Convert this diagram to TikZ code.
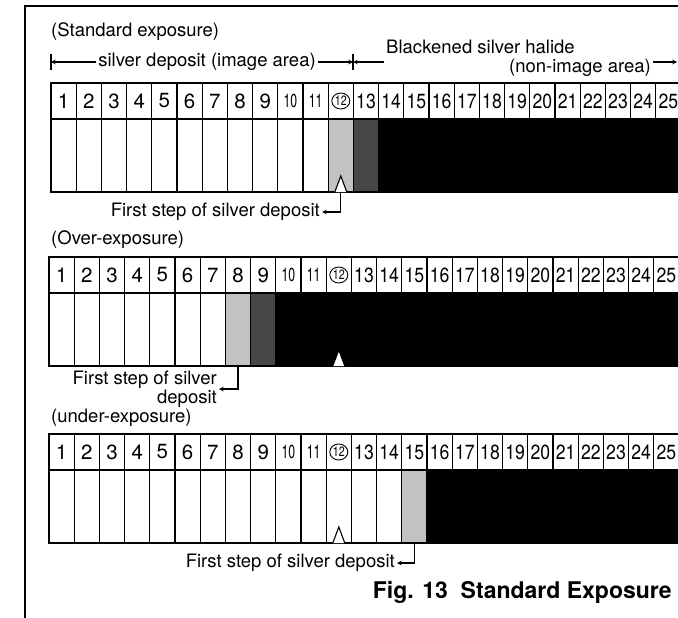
\documentclass[tikz,border=0pt]{standalone}
\usepackage{fontspec}
\setmainfont{TeX Gyre Heros}
\usepackage{graphicx}
\usetikzlibrary{positioning,calc}
\definecolor{lightdot}{gray}{0.76}
\definecolor{darkdot}{gray}{0.28}

% step numbers: 10 and 11 squeezed, 12 small (circled later), rest narrowed
\newcommand{\stepnum}[1]{\ifnum#1<10 #1\else\ifnum#1<12 \scalebox{0.6}[0.92]{#1}\else\ifnum#1=12 \scalebox{0.52}[0.66]{#1}\else\scalebox{0.86}[1]{#1}\fi\fi\fi}

% one grey scale strip: prefix, left x, top y, first grey step, first black step
\newcommand{\exposurestrip}[5]{%
  \foreach \i in {1,...,25}{%
    \ifnum\i<#4 \def\cellfill{white}\else
    \ifnum\i=#4 \def\cellfill{lightdot}\else
    \ifnum\i<#5 \def\cellfill{darkdot}\else \def\cellfill{black}\fi\fi\fi
    \node[numcell] (#1n\i) at ({#2+(\i-0.5)*25.2}, {#3+18}) {\stepnum{\i}};
    \node[bodycell, fill=\cellfill, below=0pt of #1n\i] (#1b\i) {};
  }
  \draw[line width=0.9pt] (#1n12.center) ellipse (9pt and 8pt);
}

\begin{document}
\begin{tikzpicture}[x=1pt, y=-1pt, >=stealth]
\tikzstyle{numcell} = [rectangle, draw, line width=1.2pt, outer sep=0pt, inner sep=0pt, minimum width=25.2pt, minimum height=36pt, font=\fontsize{20.5}{20}\selectfont]
\tikzstyle{bodycell} = [rectangle, draw, line width=1.2pt, outer sep=0pt, inner sep=0pt, minimum width=25.2pt, minimum height=73pt]
\tikzstyle{notetext} = [font=\fontsize{18.5}{17}\selectfont, inner sep=2pt]
\tikzstyle{arrow} = [line width=1.1pt, ->]
\tikzstyle{dimtick} = [line width=1.1pt]
\tikzstyle{notch} = [fill=white, draw, line width=1.1pt]

\useasboundingbox (0,0) rectangle (678,618);
\draw[line width=1.8pt] (25,618) -- (25,6) -- (678,6);

% standard exposure
\node[notetext, anchor=west] (stdhead) at (49,32) {(Standard exposure)};
\coordinate (imgL) at (51,62);
\coordinate (imgR) at (353,62);
\coordinate (blkR) at (677,62);
\node[notetext] (imgtxt) at (207,62) {silver deposit (image area)};
\node[notetext, anchor=west] (blktxt) at (384,47) {Blackened silver halide};
\node[notetext, anchor=east] (nontxt) at (653,68) {(non-image area)};
\draw[dimtick] ($(imgL)+(0,-8)$) -- ($(imgL)+(0,8)$);
\draw[dimtick] ($(imgR)+(0,-8)$) -- ($(imgR)+(0,8)$);
\draw[arrow] (imgtxt) -- (imgL);
\draw[arrow] (imgtxt) -- (imgR);
\draw[arrow] (blktxt.west |- imgR) -- (imgR);
\draw[arrow] (nontxt.east |- blkR) -- (blkR);

\exposurestrip{s1}{51}{83}{12}{14}
\coordinate (s1tip) at (s1b12.south);
\draw[notch] ($(s1tip)+(-6,0)$) -- ($(s1tip)+(0,-16)$) -- ($(s1tip)+(6,0)$);
\node[notetext, anchor=east] (s1lab) at (322,212) {First step of silver deposit};
\draw[arrow] (s1tip) |- (s1lab);

% over-exposure
\node[notetext, anchor=west] (overhead) at (49,240) {(Over-exposure)};
\exposurestrip{s2}{49}{257}{8}{10}
\coordinate (s2notch) at (s2b12.south);
\draw[notch] ($(s2notch)+(-6,0)$) -- ($(s2notch)+(0,-16)$) -- ($(s2notch)+(6,0)$);
\coordinate (s2tip) at (s2b8.south);
\node[notetext, anchor=east, align=right] (s2lab) at (219,389) {First step of silver\\deposit};
\draw[arrow] (s2tip) |- (s2lab);

% under-exposure
\node[notetext, anchor=west] (underhead) at (49,418) {(under-exposure)};
\exposurestrip{s3}{49}{434}{15}{16}
\coordinate (s3notch) at (s3b12.south);
\draw[notch] ($(s3notch)+(-6,0)$) -- ($(s3notch)+(0,-16)$) -- ($(s3notch)+(6,0)$);
\coordinate (s3tip) at (s3b15.south);
\node[notetext, anchor=east] (s3lab) at (397,563) {First step of silver deposit};
\draw[arrow] (s3tip) |- (s3lab);

\node[anchor=base east, inner sep=0pt, font=\fontsize{23}{23}\selectfont\bfseries] (figtitle) at (672,598) {Fig. 13\ \ Standard Exposure};
\end{tikzpicture}
\end{document}
